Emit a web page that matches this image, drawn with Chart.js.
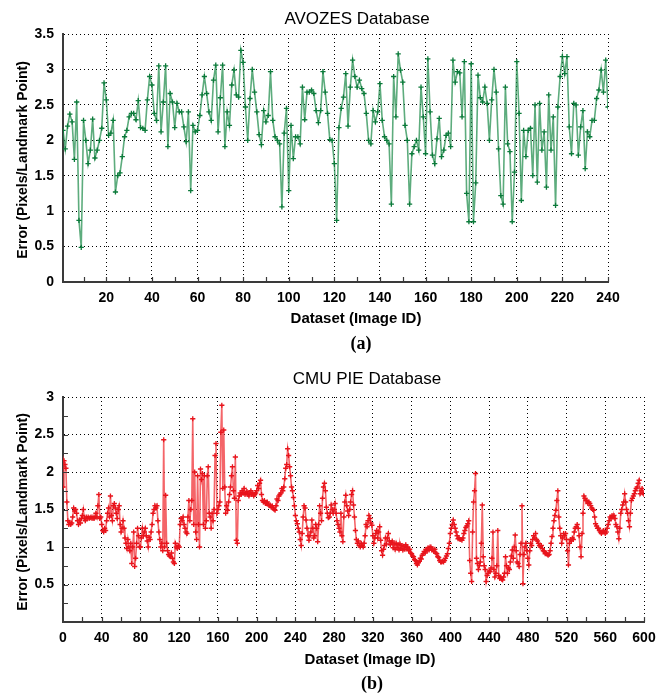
<!DOCTYPE html>
<html><head><meta charset="utf-8">
<script src="https://cdn.jsdelivr.net/npm/chart.js@4.4.0/dist/chart.umd.min.js"></script>
<style>
html,body{margin:0;padding:0;background:#fff;}
body{width:667px;height:696px;position:relative;overflow:hidden;font-family:"Liberation Sans",Arial,sans-serif;}
canvas{position:absolute;left:0;}
.t{position:absolute;white-space:nowrap;transform:translate(-50%,-50%);color:#000;line-height:1;}
.title{font-size:17px;}
.xl{font-size:15px;font-weight:bold;}
.yl{font-size:14px;font-weight:bold;transform:translate(-50%,-50%) rotate(-90deg);}
.cap{font-family:"Liberation Serif","Times New Roman",serif;font-weight:bold;font-size:18px;}
</style></head>
<body>
<canvas id="c1" width="667" height="350" style="top:0"></canvas>
<canvas id="c2" width="667" height="346" style="top:350px"></canvas>
<div class="t title" style="left:357px;top:18px">AVOZES Database</div>
<div class="t xl" style="left:356px;top:317px">Dataset (Image ID)</div>
<div class="t yl" style="left:22px;top:160px">Error (Pixels/Landmark Point)</div>
<div class="t cap" style="left:361px;top:343px">(a)</div>
<div class="t title" style="left:367px;top:378px">CMU PIE Database</div>
<div class="t xl" style="left:370px;top:658px">Dataset (Image ID)</div>
<div class="t yl" style="left:22px;top:512px">Error (Pixels/Landmark Point)</div>
<div class="t cap" style="left:372px;top:683px">(b)</div>
<script>
// ---- data ----
const AVOZES_ERROR = [
2.14,1.88,2.20,2.37,2.26,1.73,2.54,0.87,0.49,2.28,
2.00,1.67,1.86,2.30,1.75,1.86,2.00,2.17,2.81,2.57,
2.07,2.10,2.28,1.27,1.50,1.54,1.77,2.05,2.14,2.33,
2.38,2.38,2.29,2.56,2.18,2.17,2.14,2.57,2.90,2.78,
2.38,2.28,3.05,2.12,2.54,3.05,1.91,2.66,2.54,2.18,
2.52,2.40,2.40,2.19,1.98,2.40,1.29,2.21,2.12,2.14,
2.35,2.64,2.90,2.66,2.40,2.28,2.85,3.06,2.12,2.60,
3.06,1.91,2.40,2.21,2.78,2.99,2.64,2.61,3.27,3.10,
2.47,2.00,2.59,3.00,2.68,2.40,2.08,1.94,2.42,2.26,
2.35,2.97,2.28,2.05,2.00,1.95,1.06,2.10,2.45,1.29,
2.21,1.74,2.05,2.05,1.95,2.75,2.29,2.68,2.68,2.71,
2.66,2.42,2.25,2.42,2.97,2.68,2.38,2.01,2.00,1.67,
0.87,2.18,2.45,2.61,2.94,2.20,2.75,3.13,2.90,2.75,
2.85,2.73,2.66,2.38,2.00,1.95,2.42,2.26,2.40,2.80,
2.28,2.05,2.00,1.95,1.10,2.90,2.33,3.22,2.99,2.82,
2.21,2.00,1.10,1.81,1.91,2.00,1.86,2.75,2.33,1.81,
3.15,2.40,1.79,1.67,2.02,2.31,1.77,1.86,2.07,2.10,
1.91,3.13,2.82,2.97,2.95,2.33,3.11,1.25,0.85,3.08,
0.85,1.40,2.92,2.60,2.54,2.75,2.52,2.00,2.57,3.00,
2.68,1.88,1.22,1.10,2.75,1.95,1.84,0.85,1.55,3.11,
2.38,1.15,2.14,1.77,2.14,2.17,1.50,2.50,1.41,2.52,
1.86,2.12,1.34,2.64,1.86,2.33,1.08,2.47,2.90,3.18,
2.94,3.18,2.19,1.81,2.52,2.50,1.79,2.19,2.42,1.60,
2.12,2.05,2.28,2.28,2.59,2.71,2.99,2.68,3.13,2.47
];
const AVOZES_FIRST_ID = 1;
const AVOZES_X_TICKS = [20,40,60,80,100,120,140,160,180,200,220,240];
const AVOZES_Y_TICKS = [0,0.5,1,1.5,2,2.5,3,3.5];

const CMU_ERROR = [
1.80,2.15,2.10,2.05,1.60,1.35,1.30,1.33,1.30,1.32,
1.40,1.52,1.48,1.50,1.45,1.35,1.30,1.36,1.32,1.38,
1.42,1.50,1.38,1.35,1.40,1.38,1.40,1.38,1.39,1.40,
1.38,1.40,1.38,1.40,1.45,1.40,1.55,1.70,1.38,1.40,
1.30,1.22,1.20,1.25,1.22,1.35,1.45,1.52,1.40,1.68,
1.42,1.35,1.55,1.58,1.52,1.45,1.38,1.50,1.55,1.30,
1.20,1.25,1.35,1.25,1.12,1.05,0.98,1.10,1.00,0.95,
1.05,0.78,1.00,1.20,0.74,0.85,1.05,1.25,1.15,1.00,
1.00,1.12,1.25,1.15,1.20,1.25,1.15,1.08,1.00,1.13,
1.10,1.20,1.30,1.45,1.50,1.55,1.52,1.55,1.35,1.20,
1.10,1.00,1.05,0.95,2.43,1.00,1.69,1.05,0.95,0.90,
0.88,0.87,0.92,0.85,0.80,0.78,1.05,1.00,0.98,1.02,
1.00,1.30,1.38,1.35,1.40,1.30,1.25,1.20,1.18,1.40,
1.62,1.35,1.50,1.62,2.71,1.30,2.00,1.20,1.10,1.95,
1.30,1.00,2.04,1.90,1.98,1.30,1.95,1.25,1.35,1.95,
2.07,1.45,1.40,1.25,1.45,1.35,1.50,2.22,2.38,1.45,
1.50,1.55,1.60,2.53,2.89,1.78,2.56,1.80,1.45,1.55,
1.49,1.60,1.70,1.80,1.95,2.07,1.75,1.65,2.20,1.09,
1.05,1.62,1.68,1.72,1.70,1.75,1.72,1.78,1.70,1.72,
1.74,1.70,1.68,1.72,1.75,1.70,1.72,1.68,1.70,1.72,
1.75,1.82,1.78,1.85,1.89,1.70,1.62,1.60,1.62,1.58,
1.58,1.60,1.57,1.55,1.56,1.53,1.55,1.52,1.50,1.49,
1.55,1.64,1.62,1.68,1.70,1.72,1.78,1.75,1.80,1.91,
2.05,2.10,2.31,2.22,2.07,1.95,1.80,1.75,1.66,1.55,
1.42,1.35,1.31,1.25,1.20,1.10,1.02,1.18,1.40,1.55,
1.52,1.36,1.25,1.15,1.09,1.15,1.20,1.36,1.25,1.12,
1.15,1.30,1.25,1.07,1.30,1.55,1.45,1.35,1.65,1.80,
1.85,1.75,1.53,1.45,1.39,1.40,1.45,1.56,1.50,1.45,
1.50,1.58,1.45,1.35,1.30,1.25,1.20,1.45,1.15,1.07,
1.40,1.60,1.69,1.55,1.48,1.42,1.50,1.60,1.70,1.75,
1.56,1.40,1.22,1.10,1.05,1.08,1.02,1.00,1.05,1.02,
1.00,1.05,1.15,1.30,1.27,1.35,1.42,1.38,1.32,1.29,
1.15,1.05,1.12,1.18,1.22,1.12,1.20,1.27,1.09,0.95,
0.89,0.97,1.02,1.12,1.04,1.12,1.18,1.08,1.03,1.06,
1.08,0.99,1.04,0.97,1.05,0.99,1.03,0.96,1.04,0.98,
1.02,0.96,1.01,0.97,1.03,0.99,1.00,0.95,0.97,0.92,
0.91,0.88,0.87,0.83,0.82,0.78,0.76,0.79,0.81,0.85,
0.84,0.89,0.91,0.94,0.92,0.97,0.95,0.99,0.96,1.00,
1.00,0.96,0.97,0.94,0.97,0.92,0.91,0.87,0.86,0.82,
0.80,0.80,0.81,0.80,0.82,0.85,0.88,0.91,0.98,1.05,
1.18,1.25,1.30,1.36,1.30,1.25,1.20,1.15,1.11,1.12,
1.10,1.10,1.09,1.12,1.18,1.22,1.26,1.28,1.31,1.35,
0.82,0.65,0.54,1.20,1.60,1.75,1.98,0.85,0.78,0.70,
0.75,0.80,1.05,1.56,0.87,0.75,0.70,0.54,0.62,0.65,
0.68,0.67,0.72,0.85,1.20,0.70,0.60,0.65,0.75,1.22,
0.62,0.58,0.60,0.57,0.56,0.60,0.65,0.87,0.75,0.65,
0.72,0.70,0.80,0.88,0.96,0.85,1.00,1.16,0.95,0.80,
0.78,0.74,0.90,1.05,1.55,0.51,0.90,1.00,1.05,0.95,
0.85,0.76,0.95,1.05,1.02,1.10,1.15,1.12,1.18,1.10,
1.08,1.05,1.02,1.00,1.02,0.98,0.95,0.94,0.91,0.92,
0.90,0.89,0.90,0.95,1.05,1.14,1.25,1.35,1.42,1.49,
1.62,1.75,1.40,1.25,1.15,1.05,1.12,1.18,1.15,1.18,
1.10,0.95,0.76,1.05,1.10,1.08,1.12,1.10,1.20,1.25,
1.27,1.30,1.25,1.15,1.00,0.87,1.18,1.45,1.68,1.65,
1.62,1.62,1.58,1.60,1.58,1.55,1.52,1.50,1.49,1.40,
1.31,1.28,1.25,1.25,1.22,1.20,1.18,1.20,1.22,1.20,
1.18,1.20,1.25,1.30,1.35,1.40,1.38,1.42,1.40,1.42,
1.38,1.30,1.27,1.20,1.11,1.25,1.45,1.50,1.56,1.60,
1.71,1.60,1.50,1.45,1.35,1.27,1.45,1.62,1.65,1.68,
1.71,1.75,1.78,1.80,1.85,1.89,1.71,1.75,1.78,1.72,
1.70
];
const CMU_FIRST_ID = 0;
const CMU_X_TICKS = [0,40,80,120,160,200,240,280,320,360,400,440,480,520,560,600];
const CMU_Y_TICKS = [0.5,1,1.5,2,2.5,3];

// ---- helpers ----
const TICK_FONT = {family:'"Liberation Sans", Arial, sans-serif', size:14, weight:'bold'};
const AXIS_COLOR = '#3a3a3a';

const minorTicks = {
  id: 'minorTicks',
  afterDatasetsDraw(chart, args, opts) {
    const {ctx, chartArea: a, scales: {x, y}} = chart;
    ctx.save();
    ctx.strokeStyle = AXIS_COLOR;
    ctx.lineWidth = 1.2;
    ctx.beginPath();
    for (let v = opts.xFrom; v <= opts.xTo; v += opts.xStep) {
      const px = Math.round(x.getPixelForValue(v)) + 0.5;
      ctx.moveTo(px, a.bottom);
      ctx.lineTo(px, a.bottom - opts.len);
    }
    if (opts.yStep) {
      for (let v = opts.yStep; v < y.max; v += opts.yStep) {
        const py = Math.round(y.getPixelForValue(v)) + 0.5;
        ctx.moveTo(a.left, py);
        ctx.lineTo(a.left + opts.len, py);
      }
    }
    ctx.stroke();
    ctx.restore();
  }
};

function makeChart(id, values, firstId, xTicks, yTicks, xMin, xMax, yMax, lineColor, markColor, minor) {
  const pts = values.map((v, i) => ({x: firstId + i, y: v}));
  const scaleBase = (ticks) => ({
    afterBuildTicks: s => { s.ticks = ticks.map(v => ({value: v})); },
    ticks: {font: TICK_FONT, color: '#000', padding: 8, autoSkip: false, maxRotation: 0,
            callback: v => String(v)},
    grid: {color: '#000', lineWidth: 1, drawTicks: false},
    border: {display: true, color: AXIS_COLOR, width: 2, dash: [1, 3]}
  });
  const xs = Object.assign(scaleBase(xTicks), {type: 'linear', min: xMin, max: xMax});
  const ys = Object.assign(scaleBase(yTicks), {type: 'linear', min: 0, max: yMax});
  ys.ticks.padding = 9;
  return new Chart(document.getElementById(id), {
    type: 'line',
    data: {datasets: [{
      data: pts,
      borderColor: lineColor,
      borderWidth: 1.6,
      pointStyle: 'cross',
      pointRadius: 2.6,
      pointBorderWidth: 1.3,
      pointBorderColor: markColor,
      pointBackgroundColor: markColor,
      tension: 0,
      fill: false
    }]},
    options: {
      responsive: false,
      animation: false,
      parsing: false,
      normalized: true,
      layout: {padding: {left: 10, right: 40, top: 30, bottom: 20}},
      plugins: {legend: {display: false}, tooltip: {enabled: false}, title: {display: false},
                minorTicks: minor},
      scales: {x: xs, y: ys}
    },
    plugins: [minorTicks]
  });
}

function fitArea(chart, t) {
  for (let i = 0; i < 4; i++) {
    const a = chart.chartArea;
    const p = chart.options.layout.padding;
    p.left = Math.max(0, p.left + (t.left - a.left));
    p.top = Math.max(0, p.top + (t.top - a.top));
    p.right = Math.max(0, p.right + (a.right - t.right));
    p.bottom = Math.max(0, p.bottom + (a.bottom - t.bottom));
    chart.update('none');
  }
}

const c1 = makeChart('c1', AVOZES_ERROR, AVOZES_FIRST_ID, AVOZES_X_TICKS, AVOZES_Y_TICKS, 1, 240, 3.5,
  'rgba(30,140,75,0.72)', '#0b7a3a', {xFrom: 10, xTo: 240, xStep: 10, len: 5});
fitArea(c1, {left: 63, top: 34, right: 608, bottom: 282});

const c2 = makeChart('c2', CMU_ERROR, CMU_FIRST_ID, CMU_X_TICKS, CMU_Y_TICKS, 0, 600, 3,
  'rgba(240,50,55,0.75)', '#e8141c', {xFrom: 20, xTo: 600, xStep: 20, len: 5, yStep: 0.25});
fitArea(c2, {left: 63, top: 47, right: 644, bottom: 272});
</script>
</body></html>
